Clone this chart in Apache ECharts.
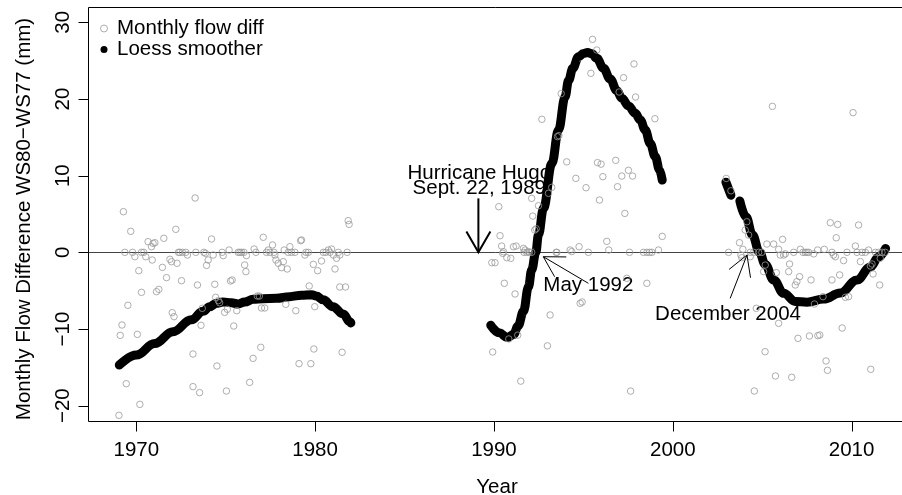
<!DOCTYPE html>
<html>
<head>
<meta charset="utf-8">
<script src="https://cdn.jsdelivr.net/npm/echarts@6/dist/echarts.min.js"></script>
<style>
html,body{margin:0;padding:0;background:#fff;}
#chart{width:902px;height:495px;}
</style>
</head>
<body>
<div id="chart"></div>
<script>
// ---------- data ----------
const X_TICKS = [1970, 1980, 1990, 2000, 2010];
const Y_TICKS = [-20, -10, 0, 10, 20, 30];
// plot box (user coordinates) as in the reference
const BOX = [1967.3, -22, 2013.6, 32];

// monthly flow differences (year, mm)
const FLOW_1969_1982 = [
[1969.28,5.30],[1969.69,2.74],[1969.36,0],[1969.79,0],[1969.92,-0.57],[1970.29,0],[1970.42,0],[1970.53,-0.57],
[1970.66,1.39],[1970.85,0.74],[1970.94,1.17],[1971.04,1.26],[1971.54,1.83],[1970.89,-1.0],[1970.14,-2.39],
[1971.46,-1.96],[1971.88,-0.91],[1971.97,-1.22],[1972.28,-1.43],[1971.69,-3.30],[1972.53,-3.70],[1970.29,-5.22],
[1971.13,-5.13],[1971.26,-4.83],[1972.21,3.0],[1972.36,0],[1972.43,0],[1972.58,0],[1972.77,0],[1972.86,-0.35],
[1973.33,0],[1973.78,0],[1973.87,-0.13],[1974.02,-1.0],[1973.93,-1.70],[1974.21,1.74],[1974.30,-0.35],
[1974.39,-4.17],[1973.42,-4.26],[1974.80,0],[1974.86,-0.43],[1975.19,0.30],[1975.27,-3.74],[1975.36,-3.61],
[1975.70,0],[1975.79,0],[1975.89,0],[1976.02,0],[1976.16,-0.43],[1976.06,-1.65],[1976.13,-2.52],[1976.59,0.43],
[1976.69,0],[1977.10,1.96],[1977.28,0],[1977.38,0.30],[1977.62,0.96],[1977.47,0],[1977.70,0],[1977.75,-0.35],
[1977.81,-1.0],[1977.94,-1.43],[1978.12,-2.0],[1978.22,-1.22],[1978.44,-2.17],[1978.27,0.30],[1978.59,0.74],
[1978.50,0],[1978.68,0],[1978.87,0],[1979.19,1.52],[1979.24,1.61],[1979.49,0],[1979.62,0],[1979.43,-0.35],
[1979.67,-4.39],[1979.90,-1.57],[1980.14,-2.39],[1980.36,-1.13],[1980.46,0],[1980.60,0],[1980.74,0.30],
[1980.92,0.43],[1980.83,0],[1981.02,-0.35],[1981.20,-0.78],[1981.11,-2.17],[1981.30,0],[1981.38,-0.35],
[1981.79,0],[1981.85,4.13],[1981.90,3.65],[1981.38,-4.52],[1981.70,-4.52],[1973.29,7.09],
[1969.53,-6.91],[1969.20,-9.48],[1969.10,-10.83],[1970.06,-10.70],[1969.44,-17.13],[1970.20,-19.83],
[1969.03,-21.26],[1972.01,-7.87],[1972.11,-8.39],[1973.17,-17.52],[1973.54,-18.30],[1973.17,-13.26],
[1973.62,-9.52],[1973.69,-7.30],[1974.59,-6.30],[1974.66,-6.57],[1974.51,-14.83],[1974.94,-7.83],
[1975.09,-7.43],[1975.04,-18.09],[1975.45,-9.61],[1975.62,-7.61],[1976.34,-16.96],[1976.53,-13.83],
[1976.77,-5.70],[1976.88,-5.70],[1976.96,-12.39],[1977.00,-7.26],[1977.18,-7.26],[1978.36,-6.78],
[1978.92,-7.61],[1979.10,-14.52],[1979.76,-14.52],[1979.98,-7.09],[1979.93,-12.61],[1981.51,-13.04],
[1974.44,-5.87]
];
const FLOW_1989_1999 = [
[1994.07,11.8],[1995.79,11.7],[1995.99,11.5],[1996.81,12.0],[1994.58,9.65],[1996.09,9.87],[1997.15,9.95],
[1997.52,10.7],[1997.75,9.95],[1995.15,8.43],[1996.91,8.56],[1993.23,8.47],[1993.05,7.7],[1992.11,7.04],
[1992.49,6.08],[1992.17,4.73],[1992.28,2.91],[1992.36,3.08],[1990.27,5.95],[1995.90,6.82],[1997.32,5.08],
[1990.34,2.17],[1999.41,2.08],[1996.31,1.43],[1990.43,0.82],[1991.09,0.73],[1991.24,0.82],[1991.65,0.52],
[1991.74,0.30],[1991.93,0.09],[1992.11,0],[1990.53,0.08],[1990.49,-0.13],[1990.72,-0.7],[1990.94,-0.78],
[1991.68,0],[1991.83,0],[1991.98,0],[1989.88,-1.35],[1990.06,-1.35],[1990.58,-4.04],[1991.18,-5.43],
[1993.48,0],[1993.52,0],[1994.26,0.3],[1994.35,0.1],[1994.76,0.74],[1995.28,0],[1996.42,0.3],[1997.58,0],
[1998.36,0],[1998.55,0],[1998.70,0],[1998.83,0],[1999.20,0.3],[1998.55,-4.04],[1997.43,-3.39],
[1993.14,-8.17],[1992.99,-12.2],[1994.82,-6.65],[1994.93,-6.48],[1997.64,-18.1],[1991.33,-10.8],
[1990.83,-11.3],[1989.93,-13.0],[1991.50,-16.8],
[1995.51,27.78],[1995.75,26.39],[1995.42,23.35],[1997.83,24.57],[1997.25,22.78],[1997.00,20.91],
[1997.92,20.26],[1993.76,20.70],[1992.68,17.35],[1999.00,17.43],[1993.55,15.09],[1993.63,15.22]
];
const FLOW_2003_2012 = [
[2002.99,9.64],[2003.25,8.03],[2004.14,3.99],[2004.05,2.9],[2004.24,2.25],[2003.73,1.26],[2003.92,0.39],
[2003.12,0],[2003.81,-0.35],[2004.33,0],[2004.52,0],[2004.80,0],[2004.98,0],[2003.86,-0.7],[2004.33,-0.57],
[2005.26,1.08],[2005.64,1.08],[2006.14,1.69],[2005.92,0.39],[2006.01,-0.35],[2006.20,-0.35],[2006.29,-0.2],
[2005.17,-1.66],[2005.08,-2.52],[2005.79,-2.65],[2006.53,-1.52],[2006.48,-2.52],[2007.09,-3.17],
[2006.94,-3.82],[2006.85,-4.26],[2006.76,0],[2007.13,0.39],[2007.28,0],[2007.41,0],[2007.50,0],[2007.60,0],
[2007.88,-0.2],[2007.73,-3.6],[2008.10,0.3],[2008.47,0.39],[2008.90,0],[2008.99,-0.35],[2009.09,-0.57],
[2008.90,-3.6],[2009.33,-2.95],[2009.55,-1.08],[2008.81,3.86],[2009.22,3.64],[2010.39,3.56],[2009.14,1.9],
[2009.74,0],[2010.21,0.82],[2010.30,0],[2010.58,0],[2010.49,-1.21],[2010.77,0],[2010.95,0.3],[2011.33,0],
[2011.51,0],[2011.70,0],[2011.05,-1.78],[2011.14,-1.52],[2011.20,-2.82],[2011.57,-4.26],[2011.60,-0.78],
[2011.88,0],[2008.40,-5.78],[2009.65,-5.87],[2009.83,-5.78],
[2004.67,-7.30],[2007.92,-6.74],[2005.92,-9.26],[2009.47,-9.87],[2007.00,-11.22],[2007.64,-10.91],
[2008.11,-10.87],[2008.22,-10.78],[2005.16,-12.96],[2008.57,-14.17],[2008.65,-15.39],[2011.07,-15.26],
[2005.74,-16.13],[2006.65,-16.30],[2004.56,-18.09],[2005.57,19.04],[2010.08,18.22]
];

// loess smoother
const LOESS_1969_1982 = [
[1969.05,-14.7],[1970.0,-13.4],[1971.03,-11.9],[1972.05,-10.35],[1973.08,-8.8],[1973.73,-7.7],[1974.1,-7.1],
[1974.48,-6.65],[1974.85,-6.48],[1975.32,-6.57],[1975.69,-6.74],[1976.06,-6.48],[1976.53,-6.13],[1977.09,-6.04],
[1977.84,-6.0],[1978.58,-5.78],[1979.24,-5.6],[1979.8,-5.52],[1980.07,-5.7],[1980.45,-6.2],[1981.0,-7.1],
[1981.57,-8.04],[1981.94,-9.04],[1982.0,-9.2]
];
const LOESS_1989_1999 = [
[1989.82,-9.5],[1990.3,-10.5],[1990.75,-11.1],[1991.1,-10.7],[1991.35,-9.6],[1991.65,-7.7],[1991.93,-4.5],
[1992.11,-2.3],[1992.34,0],[1992.49,2.3],[1992.77,5.74],[1993.24,11.6],[1993.61,15.96],[1993.98,20.3],
[1994.17,22.4],[1994.41,24.0],[1994.73,25.5],[1995.01,25.95],[1995.23,26.05],[1995.47,25.9],[1995.75,25.3],
[1996.13,24.0],[1996.5,22.6],[1996.87,21.1],[1997.15,20.1],[1997.53,19.1],[1997.9,18.13],[1998.18,17.26],
[1998.46,15.96],[1998.74,14.2],[1999.02,12.48],[1999.26,10.74],[1999.41,9.43]
];
const LOESS_2003_EARLY = [[2002.97,9.15],[2003.25,7.45]];
const LOESS_2003_2012 = [
[2003.75,6.7],[2004.1,4.6],[2004.45,2.3],[2004.85,0],[2005.17,-1.6],[2005.64,-3.6],[2006.2,-5.35],
[2006.85,-6.4],[2007.5,-6.5],[2008.43,-6.1],[2009.37,-5.3],[2010.3,-3.6],[2011.05,-1.9],[2011.51,-0.6],
[2011.9,0.5]
];

// annotations
const ANNOT_TEXT = ['Hurricane Hugo', 'Sept. 22, 1989', 'May 1992', 'December 2004'];
const ANNOT_POS = [[1989.18,10.25],[1989.18,8.29],[1995.28,-4.37],[2003.09,-8.07]];
const ARROWS = [ // [x tail, y tail, x tip, y tip]
[1989.13,7.04,1989.13,0],
[1995.28,-4.04,1992.76,-0.57],
[2003.21,-6.0,2004.15,-0.35]
];

// ---------- chart ----------
const FONT = '"Liberation Sans", Arial, Helvetica, sans-serif';
const FS = 20.5;
const TICK_LEN = 10;
// the grid is padded by the tick length on the left and bottom so the outward ticks sit inside it
const PX_PER_YEAR = 828 / (BOX[2] - BOX[0]);
const PX_PER_MM = 414 / (BOX[3] - BOX[1]);
const X_MIN = BOX[0] - TICK_LEN / PX_PER_YEAR;
const Y_MIN = BOX[1] - TICK_LEN / PX_PER_MM;
const ARROW_STYLE = [{width:2, head:24},{width:1, head:23},{width:1, head:23}];
const minus = v => (v < 0 ? '\u2212' + (-v) : String(v));
const crisp = v => Math.round(v) + 0.5;

const chart = echarts.init(document.getElementById('chart'), null, {renderer:'canvas'});

function loessSeries(data){
  return {
    type:'line', name:'Loess smoother', data:data, showSymbol:false, smooth:0.4, smoothMonotone:'x',
    lineStyle:{color:'#000', width:9, cap:'round', join:'round'}, itemStyle:{color:'#000'},
    z:2, silent:true, clip:true
  };
}

const option = {
  animation:false,
  backgroundColor:'#fff',
  textStyle:{fontFamily:FONT},
  grid:{left:78, top:7, width:838, height:424, show:false, containLabel:false, outerBoundsMode:'none'},
  legend:{
    orient:'vertical', left:95, top:13, itemWidth:16, itemHeight:7, itemGap:0, selectedMode:false,
    textStyle:{fontFamily:FONT, fontSize:FS, color:'#000', lineHeight:19, padding:[0,0,0,0]},
    data:[
      {name:'Monthly flow diff', icon:'circle', itemStyle:{color:'rgba(0,0,0,0)', borderColor:'#9a9a9a', borderWidth:1}},
      {name:'Loess smoother', icon:'circle', itemStyle:{color:'#000', borderWidth:0}}
    ]
  },
  xAxis:{
    type:'value', min:X_MIN, max:BOX[2], position:'bottom',
    splitLine:{show:false}, axisLine:{show:false, onZero:false},
    axisTick:{show:false},
    axisLabel:{customValues:X_TICKS, margin:9, fontSize:FS, color:'#000', fontFamily:FONT, formatter:v=>String(v)},
    name:'Year', nameLocation:'middle', nameGap:45.5,
    nameTextStyle:{fontSize:FS, color:'#000', fontFamily:FONT}
  },
  yAxis:{
    type:'value', min:Y_MIN, max:BOX[3], position:'left',
    splitLine:{show:false}, axisLine:{show:false, onZero:false},
    axisTick:{show:false},
    axisLabel:{customValues:Y_TICKS, rotate:90, margin:4.5, fontSize:FS, color:'#000', fontFamily:FONT, formatter:minus},
    name:'Monthly Flow Difference WS80\u2212WS77 (mm)', nameLocation:'middle', nameGap:43,
    nameTextStyle:{fontSize:FS, color:'#000', fontFamily:FONT}
  },
  series:[
    { // plot box, zero line and tick marks, all placed through the axis scales
      type:'custom', name:'frame', coordinateSystem:'cartesian2d', data:[BOX], z:1, silent:true, clip:false,
      encode:{x:[0,2], y:[1,3]},
      renderItem:function(params, api){
        const a = api.coord([api.value(0), api.value(1)]);
        const b = api.coord([api.value(2), api.value(3)]);
        const z = api.coord([api.value(0), 0]);
        const x0 = crisp(a[0]), y0 = crisp(a[1]), x1 = crisp(b[0]), y1 = crisp(b[1]);
        const kids = [
          {type:'polyline', shape:{points:[[x0,y1],[x0,y0],[x1,y0]]}, style:{stroke:'#000', lineWidth:1, fill:null}},
          {type:'line', shape:{x1:x0, y1:y1, x2:x1, y2:y1}, style:{stroke:'#000', lineWidth:1}},
          {type:'line', shape:{x1:x0, y1:crisp(z[1]), x2:x1, y2:crisp(z[1])}, style:{stroke:'#444', lineWidth:1}}
        ];
        X_TICKS.forEach(v => {
          const p = api.coord([v, api.value(1)]);
          kids.push({type:'line', shape:{x1:crisp(p[0]), y1:y0, x2:crisp(p[0]), y2:y0 + TICK_LEN},
                     style:{stroke:'#000', lineWidth:1}});
        });
        Y_TICKS.forEach(v => {
          const p = api.coord([api.value(0), v]);
          kids.push({type:'line', shape:{x1:x0, y1:crisp(p[1]), x2:x0 - TICK_LEN, y2:crisp(p[1])},
                     style:{stroke:'#000', lineWidth:1}});
        });
        return {type:'group', children:kids};
      }
    },
    {
      type:'custom', name:'labels', coordinateSystem:'cartesian2d', data:ANNOT_POS, z:1, silent:true, clip:false,
      encode:{x:0, y:1},
      renderItem:function(params, api){
        const p = api.coord([api.value(0), api.value(1)]);
        return {type:'text', x:p[0], y:p[1],
          style:{text:ANNOT_TEXT[params.dataIndex], fill:'#000', fontSize:FS, fontFamily:FONT,
                 align:'center', verticalAlign:'middle'}};
      }
    },
    loessSeries(LOESS_1969_1982),
    loessSeries(LOESS_1989_1999),
    loessSeries(LOESS_2003_EARLY),
    loessSeries(LOESS_2003_2012),
    {
      type:'scatter', name:'Monthly flow diff', data:[].concat(FLOW_1969_1982, FLOW_1989_1999, FLOW_2003_2012),
      symbol:'circle', symbolSize:6.5, z:3, silent:true, clip:true,
      itemStyle:{color:'rgba(0,0,0,0)', borderColor:'#9a9a9a', borderWidth:1}
    },
    {
      type:'custom', name:'arrows', coordinateSystem:'cartesian2d', data:ARROWS, z:4, silent:true, clip:false,
      encode:{x:[0,2], y:[1,3]},
      renderItem:function(params, api){
        const p0 = api.coord([api.value(0), api.value(1)]);
        const p1 = api.coord([api.value(2), api.value(3)]);
        const st = ARROW_STYLE[params.dataIndex];
        const dx = p0[0]-p1[0], dy = p0[1]-p1[1];
        const len = Math.hypot(dx, dy);
        const ux = dx/len, uy = dy/len;
        const a = Math.PI/6, L = st.head;
        const rot = (ang) => [p1[0] + L*(ux*Math.cos(ang) - uy*Math.sin(ang)),
                              p1[1] + L*(ux*Math.sin(ang) + uy*Math.cos(ang))];
        const style = {stroke:'#000', lineWidth:st.width, fill:null};
        return {type:'group', children:[
          {type:'line', shape:{x1:p0[0], y1:p0[1], x2:p1[0], y2:p1[1]}, style:style},
          {type:'polyline', shape:{points:[rot(a), p1, rot(-a)]}, style:style}
        ]};
      }
    }
  ]
};
chart.setOption(option);
</script>
</body>
</html>
